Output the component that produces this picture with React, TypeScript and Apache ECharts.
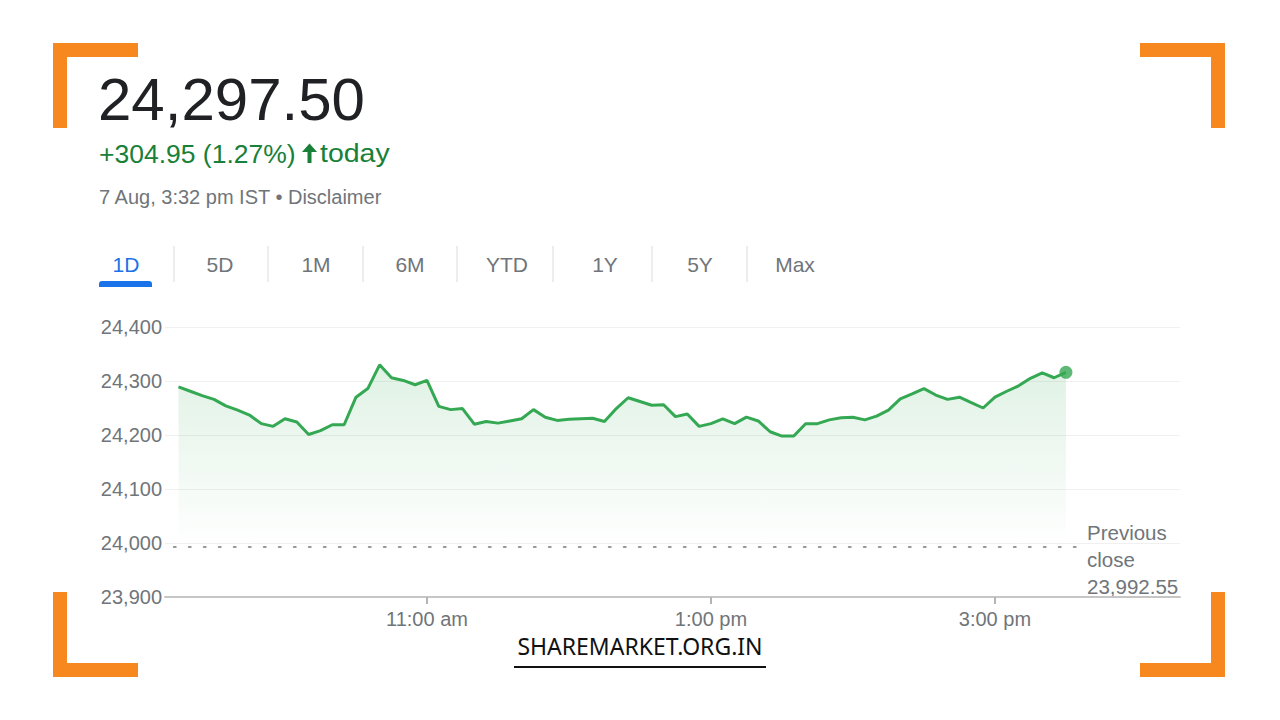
import React, { useEffect, useRef } from 'react';
import * as echarts from 'echarts';

// ---- data ----
const PRICE_TEXT = '24,297.50';
const CHANGE_TEXT = '+304.95 (1.27%)';
const CHANGE_SUFFIX = 'today';
const DATE_TEXT = '7 Aug, 3:32 pm IST • Disclaimer';
const TAB_LABELS = ['1D', '5D', '1M', '6M', 'YTD', '1Y', '5Y', 'Max'];
const PREV_CLOSE = 23992.55;
const PREV_CLOSE_LABEL = ['Previous', 'close', '23,992.55'];
const START_MINUTE = 555; // 9:15 am
const STEP_MINUTES = 5;
const VALUES = [
  24289, 24281, 24273, 24266, 24254, 24246, 24237, 24221, 24216, 24230,
  24224, 24201, 24208, 24219, 24219, 24270, 24286, 24330, 24306, 24301,
  24293, 24301, 24253, 24247, 24249, 24220, 24225, 24222, 24226, 24230,
  24247, 24233, 24227, 24229, 24230, 24231, 24225, 24249, 24269, 24262,
  24255, 24256, 24234, 24239, 24216, 24221, 24230, 24221, 24233, 24226,
  24206, 24198, 24198, 24221, 24221, 24228, 24232, 24233, 24228, 24235,
  24246, 24267, 24276, 24286, 24274, 24266, 24270, 24260, 24250, 24270,
  24281, 24291, 24305, 24315, 24306, 24316,
];
const X_TICKS = [660, 780, 900]; // 11:00 am, 1:00 pm, 3:00 pm
const Y_MIN = 23900;
const Y_MAX = 24400;
const Y_INTERVAL = 100;
const WATERMARK = 'SHAREMARKET.ORG.IN';

// ---- layout / style ----
const FONT = 'Arial, "Liberation Sans", sans-serif';
const GRAY = '#70757a';
const GREEN_TEXT = '#188038';
const LINE_GREEN = '#34a853';
const ORANGE = '#f7881f';
const X_MIN = 549.3;
const X_MAX = 978.2;
const TAB_X = [126, 220, 316, 410, 507, 605, 700, 795];
const SEP_X = [174, 268, 363, 457, 553, 652, 747];

function fmtTime(m: number): string {
  const h24 = Math.floor(m / 60);
  const mm = Math.round(m % 60);
  const ap = h24 >= 12 ? 'pm' : 'am';
  let h = h24 % 12;
  if (h === 0) h = 12;
  return `${h}:${mm < 10 ? '0' + mm : mm} ${ap}`;
}

function fmtNum(v: number): string {
  const s = String(Math.round(v));
  return s.replace(/\B(?=(\d{3})+(?!\d))/g, ',');
}

export default function App() {
  const ref = useRef<HTMLDivElement>(null);

  useEffect(() => {
    if (!ref.current) return;
    const chart = echarts.init(ref.current, undefined, { renderer: 'svg' });
    const seriesData = VALUES.map((v, i) => [START_MINUTE + i * STEP_MINUTES, v]);
    const last = seriesData[seriesData.length - 1];

    const bracket = (x: number, y: number, hx: number, vy: number) => {
      const len = 85;
      const t = 14;
      const hb = { type: 'rect', shape: { x: hx > 0 ? x : x - len, y: vy > 0 ? y : y - t, width: len, height: t }, style: { fill: ORANGE } };
      const vb = { type: 'rect', shape: { x: hx > 0 ? x : x - t, y: vy > 0 ? y : y - len, width: t, height: len }, style: { fill: ORANGE } };
      return [hb, vb];
    };

    const graphics: any[] = [
      ...bracket(53, 43, 1, 1),
      ...bracket(1225, 43, -1, 1),
      ...bracket(53, 677, 1, -1),
      ...bracket(1225, 677, -1, -1),
      { type: 'text', style: { text: PRICE_TEXT, x: 98, y: 99, fill: '#202124', font: `60px ${FONT}`, verticalAlign: 'middle' } },
      { type: 'text', x: 99, y: 154, scaleX: 1.06, style: { text: CHANGE_TEXT, x: 0, y: 0, fill: GREEN_TEXT, font: `25px ${FONT}`, verticalAlign: 'middle' } },
      { type: 'polygon', shape: { points: [[309.5, 143.5], [302, 152], [307.5, 152], [307.5, 163], [311.5, 163], [311.5, 152], [317, 152]] }, style: { fill: GREEN_TEXT } },
      { type: 'text', x: 320, y: 154, scaleX: 1.14, style: { text: CHANGE_SUFFIX, x: 0, y: 0, fill: GREEN_TEXT, font: `25px ${FONT}`, verticalAlign: 'middle' } },
      { type: 'text', style: { text: DATE_TEXT, x: 99, y: 197, fill: GRAY, font: `20px ${FONT}`, verticalAlign: 'middle' } },
      ...TAB_LABELS.map((t, i) => ({
        type: 'text',
        style: { text: t, x: TAB_X[i], y: 264, fill: i === 0 ? '#1a73e8' : GRAY, font: `21px ${FONT}`, align: 'center', verticalAlign: 'middle' },
      })),
      ...SEP_X.map((x) => ({ type: 'line', shape: { x1: x, y1: 246, x2: x, y2: 282 }, style: { stroke: '#dadce0', lineWidth: 1 } })),
      { type: 'rect', shape: { x: 99, y: 281, width: 53, height: 6, r: [3, 3, 0, 0] }, style: { fill: '#1a73e8' } },
      ...PREV_CLOSE_LABEL.map((t, i) => ({
        type: 'text',
        style: { text: t, x: 1087, y: 532 + i * 27, fill: GRAY, font: `20.5px ${FONT}`, verticalAlign: 'middle' },
      })),
      { type: 'text', style: { text: WATERMARK, x: 640, y: 646, fill: '#111', font: `23px "Noto Sans", sans-serif`, align: 'center', verticalAlign: 'middle' } },
      { type: 'rect', shape: { x: 514, y: 666, width: 252, height: 2 }, style: { fill: '#111' } },
    ];

    chart.setOption({
      animation: false,
      backgroundColor: '#ffffff',
      grid: { left: 165, right: 100, top: 327, bottom: 123, containLabel: false },
      xAxis: {
        type: 'value',
        min: X_MIN,
        max: X_MAX,
        axisLine: { show: true, lineStyle: { color: '#c6c6c6', width: 2 } },
        axisTick: { show: true, customValues: X_TICKS, length: 7, lineStyle: { color: '#b5b5b5', width: 2 } },
        axisLabel: { customValues: X_TICKS, formatter: (v: number) => fmtTime(v), color: GRAY, fontSize: 20, fontFamily: FONT, margin: 12 },
        splitLine: { show: false },
      },
      yAxis: {
        type: 'value',
        min: Y_MIN,
        max: Y_MAX,
        interval: Y_INTERVAL,
        axisLine: { show: false },
        axisTick: { show: false },
        axisLabel: { formatter: (v: number) => fmtNum(v), color: GRAY, fontSize: 20, fontFamily: FONT, margin: 3 },
        splitLine: { lineStyle: { color: '#f0f0f0', width: 1 } },
      },
      series: [
        {
          type: 'line',
          data: seriesData,
          showSymbol: false,
          symbol: 'none',
          lineStyle: { color: LINE_GREEN, width: 3 },
          areaStyle: {
            origin: PREV_CLOSE,
            color: new echarts.graphic.LinearGradient(0, 0, 0, 1, [
              { offset: 0, color: 'rgba(52,168,83,0.22)' },
              { offset: 1, color: 'rgba(52,168,83,0.0)' },
            ]),
          },
          markLine: {
            silent: true,
            symbol: ['none', 'none'],
            label: { show: false },
            lineStyle: { type: [2, 13], color: '#9a9a9a', width: 2, cap: 'round' },
            data: [[{ coord: [553, PREV_CLOSE] }, { coord: [938, PREV_CLOSE] }]],
          },
          z: 3,
        },
        {
          type: 'scatter',
          data: [last],
          symbol: 'circle',
          symbolSize: 13,
          itemStyle: { color: LINE_GREEN },
          z: 4,
        },
      ],
      graphic: graphics,
    });

    return () => chart.dispose();
  }, []);

  return <div ref={ref} style={{ position: 'fixed', left: 0, top: 0, width: 1280, height: 720 }} />;
}
